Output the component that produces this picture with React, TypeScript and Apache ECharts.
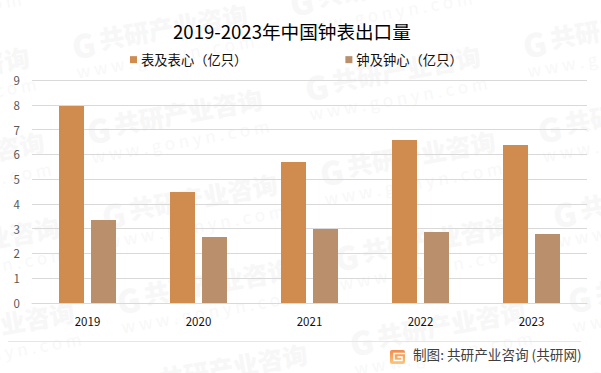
import React, { useEffect, useRef } from "react";
import * as echarts from "echarts";

const categories = ["2019", "2020", "2021", "2022", "2023"];
const watchValues = [7.95, 4.48, 5.69, 6.58, 6.38];
const movementValues = [3.35, 2.66, 2.99, 2.87, 2.78];
const seriesNames = ["表及表心（亿只）", "钟及钟心（亿只）"];
const titleText = "2019-2023年中国钟表出口量";
const sourceText = "制图: 共研产业咨询 (共研网)";
const watermarkName = "共研产业咨询";
const watermarkUrl = "w w w . g o n y n . c o m";
const FONT = '"Noto Sans CJK SC", "Noto Sans", sans-serif';

function watermarks() {
  const out: any[] = [];
  for (let i = -2; i <= 3; i++) {
    for (let j = -2; j <= 5; j++) {
      const x = 72 + i * 233 + j * 15;
      const y = 46 + i * 42 + j * 85;
      if (x < -220 || x > 610 || y < -40 || y > 410) continue;
      out.push({
        type: "group",
        x,
        y,
        rotation: (10 * Math.PI) / 180,
        z: -10,
        silent: true,
        children: [
          { type: "text", x: 0, y: -16, z: -10, style: { text: "G", font: `900 32px ${FONT}`, fill: "#f7f7f7" } },
          { type: "text", x: 28, y: -15, z: -10, style: { text: watermarkName, font: `900 25px ${FONT}`, fill: "#f7f7f7" } },
          { type: "text", x: 0, y: 17, z: -10, style: { text: watermarkUrl, font: `400 17px ${FONT}`, fill: "#f8f8f8" } },
        ],
      });
    }
  }
  return out;
}

export default function App() {
  const ref = useRef<HTMLDivElement>(null);
  useEffect(() => {
    document.body.style.margin = "0";
    const chart = echarts.init(ref.current!, undefined, { renderer: "svg" });
    chart.setOption({
      animation: false,
      backgroundColor: "#ffffff",
      textStyle: { fontFamily: FONT },
      title: {
        text: titleText,
        left: 173,
        top: 21,
        padding: 0,
        textStyle: { fontSize: 18.6, fontWeight: 400, color: "#000000", fontFamily: FONT },
      },
      legend: {
        left: 130,
        top: 53,
        padding: 0,
        itemWidth: 7,
        itemHeight: 7,
        itemGap: 98,
        icon: "rect",
        textStyle: { fontSize: 13.3, color: "#111111", fontFamily: FONT, padding: [1, 0, 0, -1] },
        data: seriesNames,
      },
      grid: { left: 32, right: 14, top: 80, bottom: 70 },
      xAxis: {
        type: "category",
        data: categories,
        axisTick: { show: false },
        axisLine: { lineStyle: { color: "#d9d9d9", width: 1 } },
        axisLabel: { color: "#111111", fontSize: 11.5, margin: 12, fontFamily: FONT },
      },
      yAxis: {
        type: "value",
        min: 0,
        max: 9,
        interval: 1,
        axisLine: { show: false },
        axisTick: { show: false },
        axisLabel: { color: "#595959", fontSize: 11.5, margin: 12, fontFamily: FONT },
        splitLine: { lineStyle: { color: "#d9d9d9", width: 1 } },
      },
      series: [
        { name: seriesNames[0], type: "bar", data: watchValues, barWidth: 25, barGap: "28%", itemStyle: { color: "#d08c4f" } },
        { name: seriesNames[1], type: "bar", data: movementValues, barWidth: 25, barGap: "28%", itemStyle: { color: "#b98f6c" } },
      ],
      graphic: [
        ...watermarks(),
        { type: "line", z: 1, shape: { x1: 8, y1: 341.5, x2: 581, y2: 341.5 }, style: { stroke: "#e6e6e6", lineWidth: 1 } },
        {
          type: "rect",
          z: 5,
          shape: { x: 390, y: 350, width: 15, height: 14, r: 2 },
          style: {
            fill: new echarts.graphic.LinearGradient(0, 0, 0, 1, [
              { offset: 0, color: "#f08a4b" },
              { offset: 1, color: "#fbc77c" },
            ]),
          },
        },
        {
          type: "polyline",
          z: 6,
          shape: { points: [[405, 353.5], [394, 353.5], [394, 360.5], [402, 360.5], [402, 357], [397.5, 357]] },
          style: { stroke: "#ffffff", lineWidth: 1.4, fill: "none" },
        },
        { type: "text", z: 6, x: 413, y: 347, style: { text: sourceText, font: `400 13.6px ${FONT}`, fill: "#404040" } },
      ],
    });
    return () => chart.dispose();
  }, []);
  return <div ref={ref} style={{ width: 601, height: 373 }} />;
}
